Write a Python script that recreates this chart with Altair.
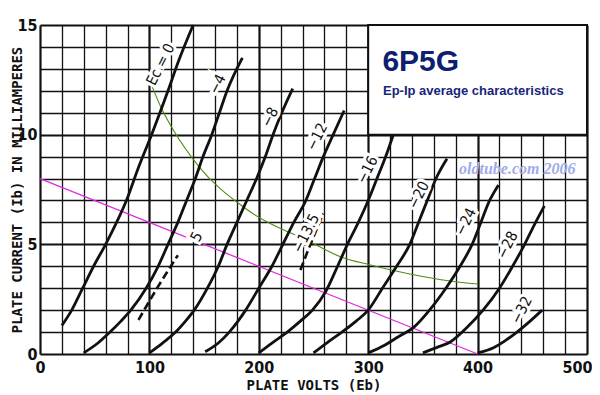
import altair as alt
import pandas as pd

# ---------------- values ----------------
# plate characteristic curves (plate volts, plate mA) per grid voltage
ec0_v = [20, 29, 39, 49, 60, 70, 79, 90, 102, 117, 127, 140]
ec0_i = [1.3, 2, 3, 4, 5, 6, 7, 8.5, 10, 12, 13.4, 15]
ec4_v = [40, 53, 64, 74, 83, 97, 108, 117, 126, 134, 142, 149, 157, 164, 171, 185]
ec4_i = [0.05, 0.5, 1, 1.5, 2, 3, 4, 5, 6, 7, 8, 9, 10, 11, 12, 13.5]
ec8_v = [100, 112, 124, 133, 141, 153, 163, 171, 180, 189, 198, 206, 213, 221, 231]
ec8_i = [0.05, 0.5, 1, 1.5, 2, 3, 4, 5, 6, 7, 8, 9, 10, 11, 12.1]
ec12_v = [151, 163, 173, 181, 188, 200, 212, 222, 232, 243, 251, 259, 268, 278]
ec12_i = [0.1, 0.5, 1, 1.5, 2, 3, 4, 5, 6, 7, 8, 9, 10, 11.1]
ec16_v = [200, 212, 226, 238, 249, 261, 272, 281, 291, 300, 308, 316, 323]
ec16_i = [0.05, 0.5, 1, 1.5, 2, 2.83, 4, 5, 6, 7, 8, 9, 10]
ec20_v = [250, 262, 276, 289, 300, 313, 326, 338, 346, 354, 362, 372]
ec20_i = [0.05, 0.5, 1, 1.5, 2, 3, 4, 5, 6, 7, 8, 8.9]
ec24_v = [300, 315, 328, 341, 356, 371, 384, 395, 403, 411, 419]
ec24_i = [0.05, 0.4, 0.8, 1.19, 2, 3, 4, 5, 6, 7, 7.7]
ec28_v = [350, 363, 375, 390, 405, 420, 432, 443, 453, 461]
ec28_i = [0.05, 0.3, 0.55, 1.2, 2, 3, 4, 5, 6, 6.75]
ec32_v = [400, 415, 425, 436, 448, 459]
ec32_i = [0.05, 0.3, 0.6, 1, 1.5, 2.0]

# dashed intermediate curves
dash5_v = [90, 107, 126]
dash5_i = [1.55, 3.0, 4.5]
dash135_v = [238, 248, 259]
dash135_i = [3.83, 5.1, 6.4]

# plate dissipation curve (green) and load line (magenta)
diss_v = [100, 112, 122, 146, 186, 249, 274, 302, 338, 375, 400]
diss_i = [12.5, 11.1, 10.2, 8.5, 6.7, 5.06, 4.45, 4.06, 3.65, 3.33, 3.19]
load_v = [0, 400]
load_i = [8, 0]

# curve labels
lab_text = ["Ec = 0", "\u22124", "\u22128", "\u221212", "\u221216", "\u221220",
            "\u221224", "\u221228", "\u221232", "5", "\u221213.5"]
lab_v = [110, 162, 210, 253, 299, 346, 389, 427, 440, 143, 243]
lab_i = [13.2, 12.3, 10.8, 9.9, 8.4, 7.25, 6.03, 4.97, 2.0, 5.35, 5.5]

# title box (data corners) and title texts
box_v = [300, 500]
box_i = [10, 15]
title_text = ["6P5G", "Ep-Ip average characteristics", "oldtube.com 2006"]
title_v = [313, 313.5, 383]
title_i = [12.88, 11.81, 8.21]

x_ticks = list(range(0, 501, 20))
y_ticks = list(range(0, 16))

# ---------------- tables ----------------
solid = [("0", ec0_v, ec0_i), ("4", ec4_v, ec4_i), ("8", ec8_v, ec8_i),
         ("12", ec12_v, ec12_i), ("16", ec16_v, ec16_i), ("20", ec20_v, ec20_i),
         ("24", ec24_v, ec24_i), ("28", ec28_v, ec28_i), ("32", ec32_v, ec32_i)]
rows = []
for name, vs, cs in solid:
    for v, c in zip(vs, cs):
        rows.append({"curve": name, "V": v, "I": c})
curves_df = pd.DataFrame(rows)

dash_rows = []
for name, vs, cs in [("5", dash5_v, dash5_i), ("13.5", dash135_v, dash135_i)]:
    for v, c in zip(vs, cs):
        dash_rows.append({"curve": name, "V": v, "I": c})
dash_df = pd.DataFrame(dash_rows)

diss_df = pd.DataFrame({"V": diss_v, "I": diss_i})
load_df = pd.DataFrame({"V": load_v, "I": load_i})
lab_df = pd.DataFrame({"t": lab_text, "V": lab_v, "I": lab_i})
box_df = pd.DataFrame({"V": [box_v[0]], "V2": [box_v[1]], "I": [box_i[0]], "I2": [box_i[1]]})
title_df = pd.DataFrame({"t": title_text, "V": title_v, "I": title_i})

# ---------------- scales / axes ----------------
LABEL_FONT = "Liberation Sans Narrow, DejaVu Sans Condensed, Liberation Sans, sans-serif"
TITLE_FONT = "DejaVu Sans Mono, Liberation Mono, monospace"

x_axis = alt.Axis(
    values=x_ticks,
    labelExpr="datum.value % 100 === 0 ? datum.label : ''",
    grid=True, gridColor="#111111",
    gridWidth={"condition": {"test": "datum.value % 100 === 0", "value": 2.2}, "value": 1.3},
    ticks=False, domain=False,
    labelFont=LABEL_FONT, labelFontSize=16, labelFontWeight="bold", labelColor="#111111",
    labelPadding=5, labelFlush=True, labelFlushOffset=5, labelOverlap=False,
    title="PLATE VOLTS (Eb)", titleFont=TITLE_FONT, titleFontSize=14,
    titleFontWeight="bold", titleColor="#111111", titlePadding=3,
)
y_axis = alt.Axis(
    values=y_ticks,
    labelExpr="datum.value % 5 === 0 ? datum.label : ''",
    grid=True, gridColor="#111111",
    gridWidth={"condition": {"test": "datum.value % 5 === 0", "value": 2.2}, "value": 1.3},
    ticks=False, domain=False,
    labelFont=LABEL_FONT, labelFontSize=16, labelFontWeight="bold", labelColor="#111111",
    labelPadding=3, labelFlush=False, labelOverlap=False,
    title="PLATE CURRENT (Ib) IN MILLIAMPERES", titleFont=TITLE_FONT, titleFontSize=14,
    titleFontWeight="bold", titleColor="#111111",
    titleX=-23, titleBaseline="middle",
)

X = alt.X("V:Q", scale=alt.Scale(domain=[0, 500], nice=False, zero=False), axis=x_axis)
Y = alt.Y("I:Q", scale=alt.Scale(domain=[0, 15], nice=False, zero=False), axis=y_axis)

base_grid = alt.Chart(load_df).mark_point(opacity=0).encode(x=X, y=Y)

box = alt.Chart(box_df).mark_rect(fill="white", stroke="#111111", strokeWidth=2).encode(
    x=X, x2="V2:Q", y=Y, y2="I2:Q")

lines = alt.Chart(curves_df).mark_line(color="#111111", strokeWidth=2.8,
                                       interpolate="monotone").encode(
    x=X, y=Y, detail="curve:N")

dashed = alt.Chart(dash_df).mark_line(color="#111111", strokeWidth=2.6, strokeDash=[8, 4],
                                      interpolate="monotone").encode(
    x=X, y=Y, detail="curve:N")

diss = alt.Chart(diss_df).mark_line(color="#4f8c12", strokeWidth=1.1,
                                    interpolate="monotone").encode(x=X, y=Y)

load = alt.Chart(load_df).mark_line(color="#e02ae0", strokeWidth=1.3).encode(x=X, y=Y)

halo = alt.Chart(lab_df).mark_text(font=LABEL_FONT, fontSize=15, angle=297, fill="white",
                                   stroke="white", strokeWidth=6,
                                   align="center", baseline="middle").encode(
    x=X, y=Y, text="t:N")
labels = alt.Chart(lab_df).mark_text(font=LABEL_FONT, fontSize=15, angle=297, color="#111111",
                                     align="center", baseline="middle").encode(
    x=X, y=Y, text="t:N")

t1 = alt.Chart(title_df.iloc[[0]]).mark_text(
    font="Liberation Sans, Arial, sans-serif", fontSize=30, fontWeight="bold",
    color="#0d1f6e", align="left", baseline="alphabetic").encode(x=X, y=Y, text="t:N")
t2 = alt.Chart(title_df.iloc[[1]]).mark_text(
    font="Liberation Sans, Arial, sans-serif", fontSize=13, fontWeight="bold",
    color="#16267a", align="left", baseline="alphabetic").encode(x=X, y=Y, text="t:N")
t3 = alt.Chart(title_df.iloc[[2]]).mark_text(
    font="Liberation Serif, Times New Roman, serif", fontSize=16, fontWeight="bold",
    fontStyle="italic", color="#9eaaea", align="left", baseline="alphabetic").encode(
    x=X, y=Y, text="t:N")

chart = alt.layer(
    base_grid, box, diss, load, lines, dashed, halo, labels, t1, t2, t3
).properties(
    width=547, height=329,
    autosize=alt.AutoSizeParams(type="none"),
    padding={"left": 32, "top": 17, "right": 5, "bottom": 38},
    background="white",
).configure_view(stroke=None)

chart.save("out.html", embed_options={"renderer": "svg", "actions": False})
